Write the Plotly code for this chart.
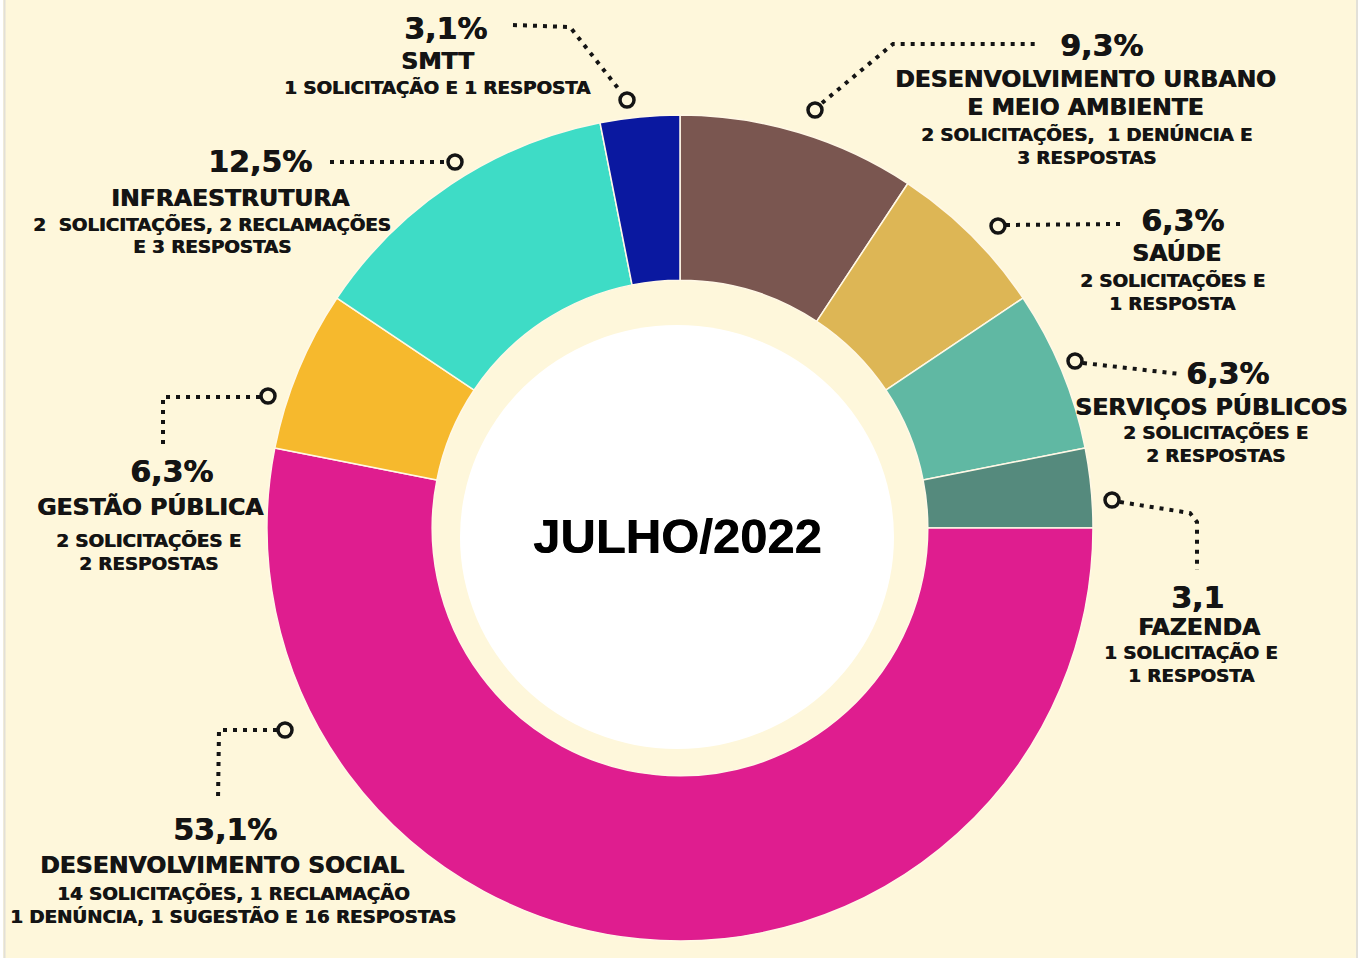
import plotly.graph_objects as go

W, H = 1362, 958
BG = "#FEF7DB"

categories = ["DESENVOLVIMENTO URBANO E MEIO AMBIENTE", "SAÚDE", "SERVIÇOS PÚBLICOS",
              "FAZENDA", "DESENVOLVIMENTO SOCIAL", "GESTÃO PÚBLICA",
              "INFRAESTRUTURA", "SMTT"]
values = [9.3, 6.3, 6.3, 3.1, 53.1, 6.3, 12.5, 3.1]
pct_labels = ["9,3%", "6,3%", "6,3%", "3,1", "53,1%", "6,3%", "12,5%", "3,1%"]
name_lines = [["DESENVOLVIMENTO URBANO", "E MEIO AMBIENTE"], ["SAÚDE"], ["SERVIÇOS PÚBLICOS"],
              ["FAZENDA"], ["DESENVOLVIMENTO SOCIAL"], ["GESTÃO PÚBLICA"],
              ["INFRAESTRUTURA"], ["SMTT"]]
detail_lines = [["2 SOLICITAÇÕES,  1 DENÚNCIA E", "3 RESPOSTAS"],
                ["2 SOLICITAÇÕES E", "1 RESPOSTA"],
                ["2 SOLICITAÇÕES E", "2 RESPOSTAS"],
                ["1 SOLICITAÇÃO E", "1 RESPOSTA"],
                ["14 SOLICITAÇÕES, 1 RECLAMAÇÃO", "1 DENÚNCIA, 1 SUGESTÃO E 16 RESPOSTAS"],
                ["2 SOLICITAÇÕES E", "2 RESPOSTAS"],
                ["2  SOLICITAÇÕES, 2 RECLAMAÇÕES", "E 3 RESPOSTAS"],
                ["1 SOLICITAÇÃO E 1 RESPOSTA"]]
colors = ["#7A5650", "#DDB655", "#60B8A3", "#558A7D", "#DF1D8F", "#F6B92D", "#3EDCC6", "#0A18A0"]
center_title = "JULHO/2022"

def px(x):
    return x / W

def py(y):
    return 1 - y / H

# pie geometry (pixels)
CX, CY, R = 680, 528, 413

fig = go.Figure(go.Pie(
    labels=categories, values=values, sort=False, direction="clockwise", rotation=0,
    hole=0.6, textinfo="none", hoverinfo="label+percent",
    marker=dict(colors=colors, line=dict(color="#FFF8E6", width=1.5)),
    domain=dict(x=[px(CX - R), px(CX + R)], y=[py(CY + R), py(CY - R)]),
    showlegend=False,
))

FONT = "DejaVu Sans"
INK = "#141414"
annotations = []

def ann(text, x, y, size, family=FONT, color=INK, shadow="0.7px 0 0 #141414"):
    annotations.append(dict(text="<b>%s</b>" % text, x=px(x), y=py(y), xref="paper", yref="paper",
                            xanchor="center", yanchor="middle", showarrow=False,
                            font=dict(family=family, size=size, color=color, shadow=shadow)))

# label block layout: (pct x,y), (name x, first y), (detail x, first y)
layout_pos = [
    ((1101, 46), (1085, 79), (1086, 134)),
    ((1182, 221), (1176, 253), (1172, 280)),
    ((1227, 373), (1211, 407), (1215, 432)),
    ((1197, 597), (1199, 627), (1191, 652)),
    ((225, 829), (222, 865), (233, 893)),
    ((171, 471), (150, 507), (148, 540)),
    ((260, 162), (230, 198), (212, 224)),
    ((445, 29), (437, 61), (437, 87)),
]
for i in range(len(values)):
    (pxx, pyy), (nx, ny), (dx, dy) = layout_pos[i]
    ann(pct_labels[i], pxx, pyy, 30)
    for k, t in enumerate(name_lines[i]):
        ann(t, nx, ny + 28 * k, 23.5)
    for k, t in enumerate(detail_lines[i]):
        ann(t, dx, dy + 23 * k, 18.3)

ann(center_title, 677, 536, 49, family="Liberation Sans", color="black", shadow="0.6px 0 0 black")

shapes = []
# white centre disc
shapes.append(dict(type="circle", xref="paper", yref="paper",
                   x0=px(677 - 217), x1=px(677 + 217), y0=py(537 + 212), y1=py(537 - 212),
                   fillcolor="white", line=dict(width=0), layer="above"))

connectors = [
    ([(822, 103), (893, 44), (1035, 44)], (815, 110)),
    ([(1006, 225), (1120, 224)], (998, 226)),
    ([(1083, 363), (1180, 374)], (1075, 361)),
    ([(1120, 502), (1190, 513), (1197, 522), (1197, 570)], (1112, 500)),
    ([(277, 730), (219, 730), (218, 800)], (285, 730)),
    ([(260, 397), (163, 397), (163, 447)], (268, 396)),
    ([(330, 162), (447, 162)], (455, 162)),
    ([(513, 25), (570, 27), (621, 92)], (627, 100)),
]
for pts, (cx, cy) in connectors:
    path = "M " + " L ".join("%.5f,%.5f" % (px(a), py(b)) for a, b in pts)
    shapes.append(dict(type="path", xref="paper", yref="paper", path=path,
                       line=dict(color=INK, width=4, dash="4px,6px"), layer="above"))
    r = 7
    shapes.append(dict(type="circle", xref="paper", yref="paper",
                       x0=px(cx - r), x1=px(cx + r), y0=py(cy + r), y1=py(cy - r),
                       fillcolor=BG, line=dict(color=INK, width=3.5), layer="above"))

# white outer edges with faint frame lines
shapes.append(dict(type="rect", xref="paper", yref="paper", x0=0, x1=px(3), y0=0, y1=1,
                   fillcolor="white", line=dict(width=0), layer="above"))
shapes.append(dict(type="rect", xref="paper", yref="paper", x0=px(1358), x1=1, y0=0, y1=1,
                   fillcolor="white", line=dict(width=0), layer="above"))
for xe in (4.5, 1357):
    shapes.append(dict(type="line", xref="paper", yref="paper", x0=px(xe), x1=px(xe), y0=0, y1=1,
                       line=dict(color="#E2E0D8", width=2), layer="above"))

fig.update_layout(width=W, height=H, margin=dict(l=0, r=0, t=0, b=0),
                  paper_bgcolor=BG, plot_bgcolor=BG,
                  annotations=annotations, shapes=shapes)

fig.write_html("out.html", config={"displayModeBar": False},
               post_script="document.body.style.margin='0';")
